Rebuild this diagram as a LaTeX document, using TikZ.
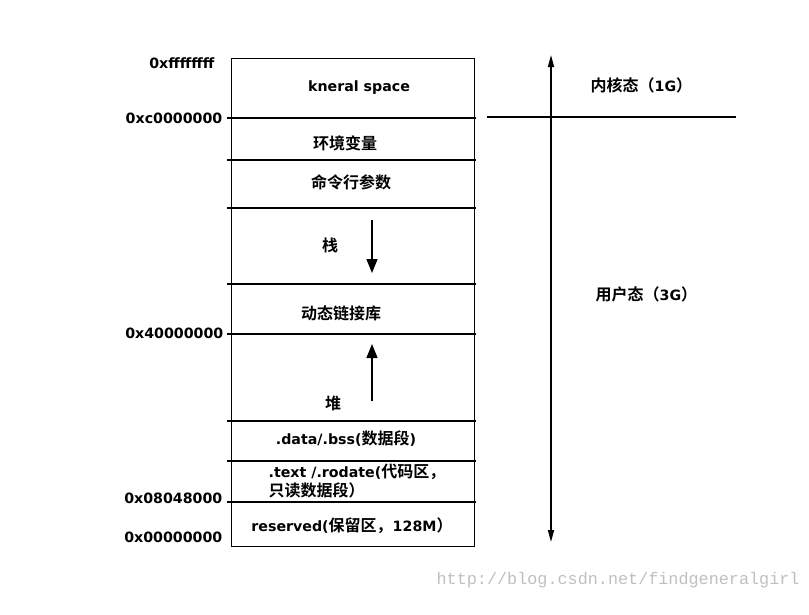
\documentclass[tikz,border=0pt]{standalone}
\usepackage{fontspec}
\setmainfont{DejaVu Sans}
\newfontfamily\cjkfont{Noto Sans CJK SC}[BoldFont={Noto Sans CJK SC Bold}]
\newfontfamily\wmfont{Liberation Mono}
\usetikzlibrary{arrows.meta}
\newcommand{\zh}[1]{{\cjkfont\bfseries\fontsize{16}{19}\selectfont #1}}
\begin{document}
\begin{tikzpicture}[x=1pt,y=-1pt,line width=1.3pt,
  lbl/.style={font=\fontsize{14.2}{19}\selectfont\bfseries, inner sep=0pt},
  addr/.style={lbl, anchor=east},
  growarrow/.style={-{Triangle[width=11pt,length=14pt]}},
  spanarrow/.style={{Triangle[width=6pt,length=12pt]}-{Triangle[width=6pt,length=12pt]}},
  wmark/.style={font=\wmfont\fontsize{16.8}{18}\selectfont, text=black!25, inner sep=0pt, anchor=west}]
\useasboundingbox (0,0) rectangle (809,614);
% memory box
\node[draw, minimum width=243pt, minimum height=488pt, anchor=north west, inner sep=0pt] (box) at (231,58) {};
\foreach \y/\n in {118/a,160/b,208/c,284/d,334/e,421/f,461/g,502/h} {
  \coordinate (L\n) at (227,\y);
  \coordinate (R\n) at (476,\y);
  \draw (L\n) -- (R\n);
}
% contents
\node[lbl] (ks) at (359,88) {kneral space};
\node[lbl] (env) at (345,143) {\zh{环境变量}};
\node[lbl] (cmd) at (351,182) {\zh{命令行参数}};
\node[lbl] (stk) at (330,245) {\zh{栈}};
\node[lbl] (dyn) at (341,313) {\zh{动态链接库}};
\node[lbl] (heap) at (333,403) {\zh{堆}};
\node[lbl] (data) at (346,439) {.data/.bss(\zh{数据段})};
\node[lbl, anchor=west, align=left] (text) at (268,481) {.text /.rodate(\zh{代码区，}\\\zh{只读数据段）}};
\node[lbl] (res) at (352,526) {reserved(\zh{保留区，}128M\zh{）}};
% growth arrows
\coordinate (s1) at (372,220); \coordinate (s2) at (372,273);
\draw[growarrow] (s1) -- (s2);
\coordinate (h1) at (372,401); \coordinate (h2) at (372,344);
\draw[growarrow] (h1) -- (h2);
% addresses
\node[addr] (a1) at (215,63) {0xffffffff};
\node[addr] (a2) at (223,118) {0xc0000000};
\node[addr] (a3) at (224,333) {0x40000000};
\node[addr] (a4) at (223,498) {0x08048000};
\node[addr] (a5) at (223,537) {0x00000000};
% right side
\coordinate (vt) at (551,55); \coordinate (vb) at (551,542);
\draw[spanarrow, line width=1.5pt] (vt) -- (vb);
\coordinate (hl) at (487,117); \coordinate (hr) at (736,117);
\draw (hl) -- (hr);
\node[lbl, anchor=west] (kern) at (590,85) {\zh{内核态（}1G\zh{）}};
\node[lbl, anchor=west] (user) at (595,294) {\zh{用户态（}3G\zh{）}};
\node[wmark] (wm) at (436,580) {http://blog.csdn.net/findgeneralgirl};
\end{tikzpicture}
\end{document}
